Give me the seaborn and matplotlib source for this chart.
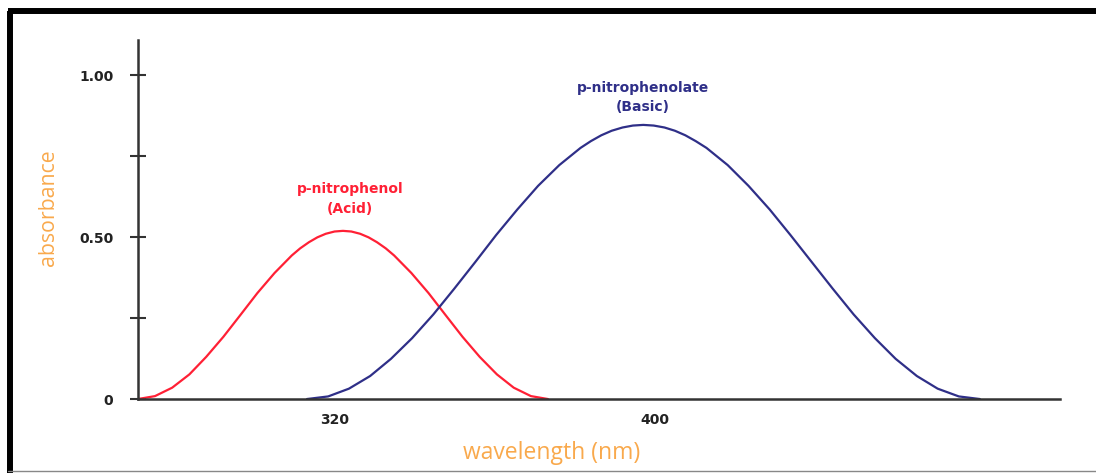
import pandas as pd
import matplotlib.pyplot as plt
import seaborn as sns
from matplotlib.lines import Line2D

# Values (wavelength in nm, absorbance)
acid_nm = [270.75, 275.0, 279.3, 283.6, 287.8, 292.1, 296.4, 300.6, 304.9, 309.2, 311.3, 313.5, 315.6,
           317.7, 319.9, 322.0, 324.1, 326.3, 328.4, 330.5, 332.7, 334.8, 339.1, 343.4, 347.6, 351.9,
           356.2, 360.5, 364.7, 369.0, 373.25]
acid_abs = [0.0, 0.009, 0.035, 0.076, 0.130, 0.192, 0.260, 0.327, 0.389, 0.443, 0.465, 0.484, 0.499,
            0.510, 0.517, 0.519, 0.517, 0.510, 0.499, 0.484, 0.465, 0.443, 0.389, 0.327, 0.260, 0.192,
            0.130, 0.076, 0.035, 0.009, 0.0]

basic_nm = [313.0, 318.3, 323.5, 328.8, 334.0, 339.3, 344.6, 349.8, 355.1, 360.3, 365.6, 370.8, 376.1,
            381.4, 384.0, 386.6, 389.2, 391.9, 394.5, 397.1, 399.7, 402.4, 405.0, 407.6, 410.2, 412.9,
            418.2, 423.4, 428.7, 433.9, 439.2, 444.5, 449.7, 455.0, 460.2, 465.5, 470.7, 476.0, 481.25]
basic_abs = [0.0, 0.008, 0.032, 0.071, 0.124, 0.188, 0.261, 0.340, 0.423, 0.506, 0.585, 0.658, 0.722,
             0.775, 0.796, 0.814, 0.828, 0.838, 0.844, 0.846, 0.844, 0.838, 0.828, 0.814, 0.796, 0.775,
             0.722, 0.658, 0.585, 0.506, 0.423, 0.340, 0.261, 0.188, 0.124, 0.071, 0.032, 0.008, 0.0]

y_ticks = [0, 0.25, 0.50, 0.75, 1.00]
y_labels = ["0", "", "0.50", "", "1.00"]
x_ticks = [320, 400]
x_labels = ["320", "400"]

acid_color = "#ff2035"
basic_color = "#2f2f88"
label_color = "#f9a94c"

df = pd.concat([
    pd.DataFrame({"nm": acid_nm, "abs": acid_abs, "form": "acid"}),
    pd.DataFrame({"nm": basic_nm, "abs": basic_abs, "form": "basic"}),
])

sns.set_theme(style="white")
plt.rcParams['font.family'] = ['Open Sans', 'DejaVu Sans']

fig = plt.figure(figsize=(10.96, 4.73), dpi=100)
ax = fig.add_axes([0.1259, 0.1564, 0.8411, 0.759])

sns.lineplot(data=df, x="nm", y="abs", hue="form", palette={"acid": acid_color, "basic": basic_color},
             linewidth=1.6, legend=False, ax=ax, sort=False, estimator=None)

ax.set_xlim(270.75, 501.25)
ax.set_ylim(0, 1.108)

for s in ["top", "right"]:
    ax.spines[s].set_visible(False)
for s in ["left", "bottom"]:
    ax.spines[s].set_color("#333333")
    ax.spines[s].set_linewidth(1.8)

ax.set_yticks(y_ticks)
ax.set_yticklabels(y_labels, fontsize=10, fontweight="bold", color="#222222", family="DejaVu Sans")
ax.set_xticks(x_ticks)
ax.set_xticklabels(x_labels, fontsize=10, fontweight="bold", color="#222222", family="DejaVu Sans")
ax.tick_params(axis="y", left=True, direction="inout", length=11.5, width=1.5, color="#333333", pad=12)
ax.tick_params(axis="x", bottom=False, length=0, pad=10)

ax.set_xlabel("wavelength (nm)", fontsize=16.5, color=label_color)
ax.set_ylabel("absorbance", fontsize=15.3, color=label_color)
ax.xaxis.set_label_coords(0.449, -0.118)
ax.yaxis.set_label_coords(-0.086, 0.532)

ax.text(323.75, 0.617, "p-nitrophenol\n(Acid)", color=acid_color, fontsize=10, family="DejaVu Sans",
        fontweight="bold", ha="center", va="center", linespacing=1.5)
ax.text(397, 0.930, "p-nitrophenolate\n(Basic)", color=basic_color, fontsize=10, family="DejaVu Sans",
        fontweight="bold", ha="center", va="center", linespacing=1.4)

# outer frame
fig.add_artist(Line2D([0.0091, 0.0091], [0, 0.9767], color="black", linewidth=4.3, solid_capstyle="butt"))
fig.add_artist(Line2D([0.0073, 1.0], [0.9767, 0.9767], color="black", linewidth=4.3, solid_capstyle="butt"))
fig.add_artist(Line2D([0.0073, 1.0], [0.0042, 0.0042], color="#888888", linewidth=1.0))

fig.savefig("out.png", dpi=100)
